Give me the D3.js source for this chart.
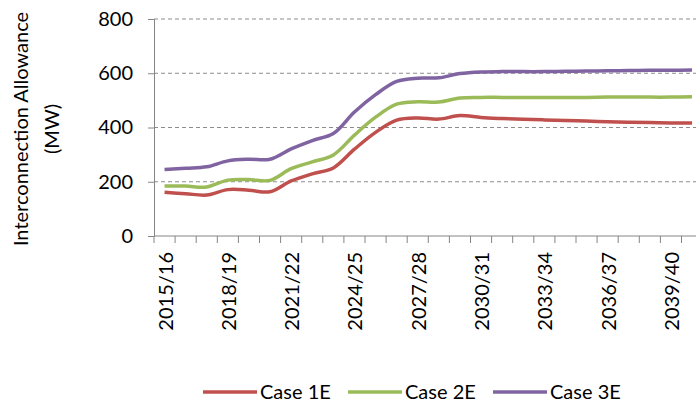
<!DOCTYPE html>
<meta charset="utf-8">
<style>
  body { margin: 0; background: #fff; }
  text { font-family: Lato, "Open Sans", sans-serif; fill: #000; }
</style>

<script src="https://d3js.org/d3.v7.min.js"></script>

<div id="my_dataviz"></div>

<script>

// categories (financial years) and the three cases, in MW
var years = ["2015/16","2016/17","2017/18","2018/19","2019/20","2020/21","2021/22","2022/23",
             "2023/24","2024/25","2025/26","2026/27","2027/28","2028/29","2029/30","2030/31",
             "2031/32","2032/33","2033/34","2034/35","2035/36","2036/37","2037/38","2038/39",
             "2039/40","2040/41"];
var case1E = [161, 156, 151, 171, 169, 163, 203, 229, 251, 320, 382, 427, 435,
              431, 444, 437, 433, 430, 428, 426, 424, 421, 419, 418, 417, 417];
var case2E = [184, 184, 181, 206, 208, 205, 248, 273, 299, 372, 438, 486, 495,
              494, 509, 511, 511, 511, 511, 511, 511, 512, 512, 512, 512, 513];
var case3E = [245, 250, 255, 277, 283, 283, 321, 352, 378, 457, 521, 570, 582,
              583, 599, 605, 606, 606, 606, 607, 608, 609, 610, 611, 611, 612];
var yTicks = [0, 200, 400, 600, 800];
var shownYears = ["2015/16","2018/19","2021/22","2024/25","2027/28","2030/31","2033/34","2036/37","2039/40"];

var series = [
  {name: "Case 1E", values: case1E, color: "#C0504D"},
  {name: "Case 2E", values: case2E, color: "#9BBB59"},
  {name: "Case 3E", values: case3E, color: "#8064A2"}
];

// plot box (the right side runs past the window, as in the cropped original)
var W = 696, H = 410;
var plotLeft = 154, plotRight = 702.6, plotTop = 19, plotBottom = 236;

var svg = d3.select("#my_dataviz")
  .append("svg")
    .attr("width", W)
    .attr("height", H);

var x = d3.scaleBand()
  .domain(years)
  .range([plotLeft, plotRight])
  .padding(0);

var y = d3.scaleLinear()
  .domain([0, 800])
  .range([plotBottom, plotTop]);

// dashed gridlines
svg.append("g")
  .selectAll("line")
  .data(yTicks.filter(function(d) { return d > 0; }))
  .enter().append("line")
    .attr("x1", plotLeft).attr("x2", plotRight)
    .attr("y1", function(d) { return y(d); })
    .attr("y2", function(d) { return y(d); })
    .attr("stroke", "#8c8c8c")
    .attr("stroke-width", 1)
    .attr("stroke-dasharray", "4,3");

// Y axis
var yAxis = svg.append("g")
  .attr("transform", "translate(" + plotLeft + ",0)")
  .call(d3.axisLeft(y).tickValues(yTicks).tickSize(6).tickPadding(15).tickFormat(d3.format("d")));
yAxis.select(".domain").attr("stroke", "#868686");
yAxis.selectAll(".tick line").attr("stroke", "#868686");
yAxis.selectAll(".tick text")
  .style("font-size", "20px")
  .attr("fill", "#000");

// X axis: ticks on band boundaries, labels every third year
var xAxisG = svg.append("g")
  .attr("transform", "translate(0," + plotBottom + ")");
xAxisG.append("line")
  .attr("x1", plotLeft).attr("x2", plotRight)
  .attr("stroke", "#868686");
var bounds = years.map(function(d) { return x(d); }).concat([x(years[years.length - 1]) + x.bandwidth()]);
xAxisG.selectAll(".xt")
  .data(bounds)
  .enter().append("line")
    .attr("class", "xt")
    .attr("x1", function(d) { return d; })
    .attr("x2", function(d) { return d; })
    .attr("y1", 0).attr("y2", 7)
    .attr("stroke", "#868686");
xAxisG.selectAll(".xl")
  .data(shownYears)
  .enter().append("text")
    .attr("class", "xl")
    .attr("transform", function(d) {
      return "translate(" + (x(d) + x.bandwidth() / 2 + 1) + ",16) rotate(-90)";
    })
    .attr("text-anchor", "end")
    .attr("dy", "0.35em")
    .style("font-size", "20px")
    .text(function(d) { return d; });

// Y axis title
var title = svg.append("text")
  .attr("transform", "translate(28,129) rotate(-90)")
  .attr("text-anchor", "middle")
  .style("font-size", "20px");
title.append("tspan").attr("x", 0).attr("y", 0).text("Interconnection Allowance");
title.append("tspan").attr("x", 0).attr("y", 31).text("(MW)");

// the smoothed lines
var line = d3.line()
  .x(function(d, i) { return x(years[i]) + x.bandwidth() / 2; })
  .y(function(d) { return y(d); })
  .curve(d3.curveCatmullRom.alpha(0.5));

svg.append("g")
  .selectAll("path")
  .data(series)
  .enter().append("path")
    .attr("fill", "none")
    .attr("stroke", function(d) { return d.color; })
    .attr("stroke-width", 3.5)
    .attr("stroke-linejoin", "round")
    .attr("d", function(d) { return line(d.values); });

// legend
var legend = svg.append("g")
  .selectAll("g")
  .data(series)
  .enter().append("g")
    .attr("transform", function(d, i) { return "translate(" + (203 + i * 145) + ",392)"; });
legend.append("line")
  .attr("x1", 0).attr("x2", 54)
  .attr("stroke", function(d) { return d.color; })
  .attr("stroke-width", 3.5);
legend.append("text")
  .attr("x", 57)
  .attr("dy", "0.35em")
  .style("font-size", "20px")
  .text(function(d) { return d.name; });

</script>
